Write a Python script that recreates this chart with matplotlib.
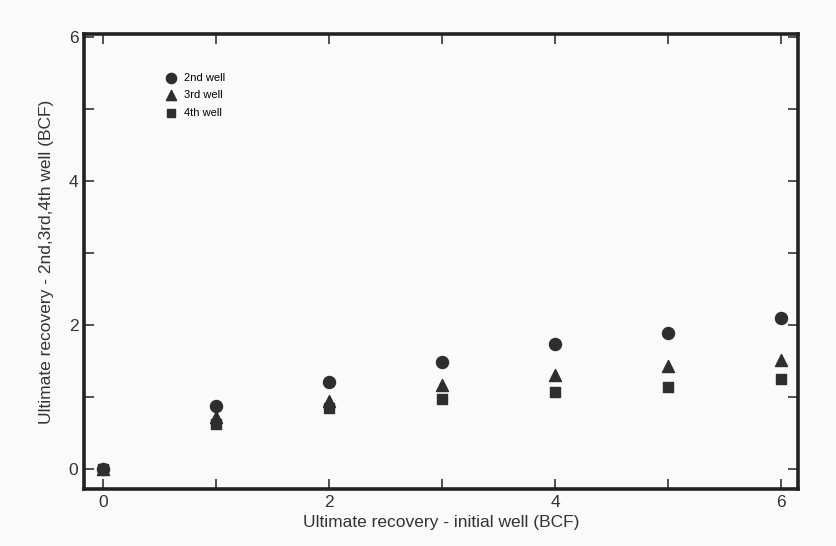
import matplotlib
matplotlib.use("Agg")
import matplotlib.pyplot as plt

plt.rcParams['font.family'] = ['Liberation Sans', 'DejaVu Sans']

x_values = [0, 1, 2, 3, 4, 5, 6]
well2 = [0.0, 0.87, 1.20, 1.48, 1.73, 1.89, 2.09]
well3 = [0.0, 0.72, 0.94, 1.16, 1.30, 1.43, 1.51]
well4 = [0.0, 0.62, 0.84, 0.97, 1.07, 1.14, 1.25]
tick_major = [0, 2, 4, 6]
tick_minor = [1, 3, 5]

fig = plt.figure(figsize=(8.36, 5.46), dpi=100)
fig.patch.set_facecolor('#fafafa')
ax = fig.add_axes([0.1005, 0.1044, 0.854, 0.8333])
ax.set_facecolor('#fafafa')

mc = '#2e2e2e'
ax.scatter(x_values, well2, marker='o', s=75, color=mc, label='2nd well', zorder=3)
ax.scatter(x_values, well3, marker='^', s=75, color=mc, label='3rd well', zorder=3)
ax.scatter(x_values, well4, marker='s', s=55, color=mc, label='4th well', zorder=3)

ax.set_xlim(-0.17, 6.15)
ax.set_ylim(-0.28, 6.04)
ax.set_xticks(tick_major)
ax.set_xticks(tick_minor, minor=True)
ax.set_yticks(tick_major)
ax.set_yticks(tick_minor, minor=True)
ax.tick_params(which='both', direction='in', top=True, right=True, color='#333333',
               width=1.2, labelsize=12.5, pad=4)
ax.tick_params(which='major', length=7)
ax.tick_params(which='minor', length=7)

for s in ax.spines.values():
    s.set_linewidth(2.6)
    s.set_color('#222222')

ax.set_xlabel('Ultimate recovery - initial well (BCF)', fontsize=12.5, color='#333333', labelpad=4)
ax.set_ylabel('Ultimate recovery - 2nd,3rd,4th well (BCF)', fontsize=12.5, color='#333333', labelpad=11)
for lbl in ax.get_xticklabels() + ax.get_yticklabels():
    lbl.set_color('#333333')

leg = ax.legend(loc='upper left', bbox_to_anchor=(0.1, 0.936), frameon=False,
                fontsize=8, handletextpad=0.7, labelspacing=0.65, markerscale=0.85,
                handlelength=1.0)

fig.savefig('out.png', dpi=100, facecolor=fig.get_facecolor())
